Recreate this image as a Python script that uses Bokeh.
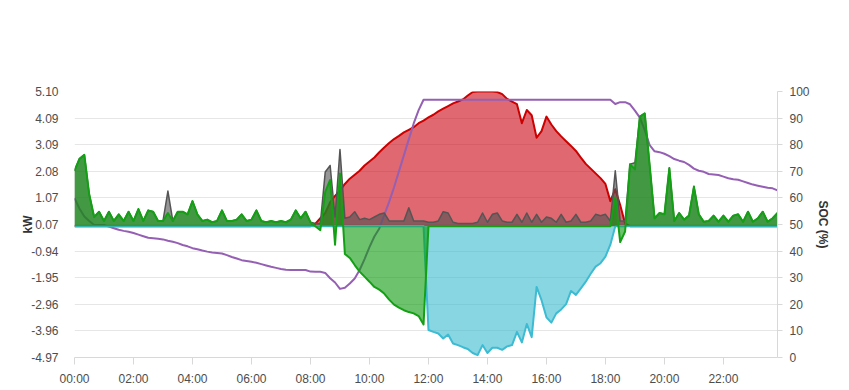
from bokeh.plotting import figure
from bokeh.models import (Range1d, LinearAxis, FixedTicker, PrintfTickFormatter,
                          CustomJSTickFormatter, ColumnDataSource)
from bokeh.embed import file_html
from bokeh.resources import INLINE

STEP_MIN = 10  # one value every 10 minutes, 00:00 .. 23:50

# PV production (kW)
pv = ([0.0] * 48 +
      [0.0, 0.1, 0.3, 0.5, 0.9, 1.15,
       1.35, 1.6, 1.8, 1.95, 2.1, 2.3,
       2.45, 2.6, 2.8, 2.98, 3.15, 3.3,
       3.42, 3.55, 3.65, 3.75, 3.9, 4.0,
       4.12, 4.22, 4.35, 4.45, 4.55, 4.65,
       4.72, 4.8, 4.95, 5.08, 5.1, 5.1,
       5.1, 5.1, 5.08, 5.0, 4.82, 4.72,
       4.62, 3.9, 4.4, 4.2, 3.35, 3.6,
       4.15, 3.85, 3.6, 3.4, 3.22, 3.04,
       2.85, 2.6, 2.36, 2.18, 2.0, 1.82,
       1.6, 0.95, 1.4, 0.8, 0.1, 0.0] +
      [0.0] * 30)

# Battery power (kW, + discharge / - charge)
battery = ([2.1, 2.55, 2.7, 1.2, 0.35, 0.55,
            0.2, 0.55, 0.2, 0.45, 0.2, 0.55,
            0.2, 0.65, 0.2, 0.6, 0.55, 0.2,
            0.2, 0.5, 0.2, 0.55, 0.55, 0.45,
            0.95, 0.45, 0.2, 0.25, 0.15, 0.2,
            0.6, 0.2, 0.2, 0.25, 0.45, 0.2,
            0.25, 0.6, 0.2, 0.15, 0.2, 0.15,
            0.2, 0.15, 0.25, 0.6, 0.3, 0.55,
            0.15, 0.0, -0.15, 1.3, 1.75, -0.7,
            2.0, -1.05, -1.2, -1.47, -1.72, -1.91,
            -2.1, -2.3, -2.4, -2.55, -2.78, -2.97,
            -3.08, -3.18, -3.25, -3.3, -3.4, -3.72] +
           [0.0] * 36 +
           [0.0, 0.0, 1.1, -0.6, -0.2, 2.35,
            2.15, 4.15, 4.27, 2.3, 0.3, 0.5,
            0.45, 2.2, 0.2, 0.5, 0.25, 0.4,
            1.5, 0.45, 0.17, 0.2, 0.4, 0.17,
            0.4, 0.17, 0.4, 0.45, 0.17, 0.55,
            0.17, 0.3, 0.55, 0.17, 0.3, 0.5])

# House load (kW)
load = [2.1, 2.55, 2.7, 1.2, 0.35, 0.55,
        0.2, 0.55, 0.2, 0.45, 0.2, 0.55,
        0.2, 0.65, 0.2, 0.6, 0.55, 0.2,
        0.2, 1.33, 0.2, 0.55, 0.55, 0.45,
        0.95, 0.45, 0.2, 0.25, 0.15, 0.2,
        0.6, 0.2, 0.2, 0.25, 0.45, 0.2,
        0.25, 0.6, 0.2, 0.15, 0.2, 0.15,
        0.2, 0.15, 0.25, 0.6, 0.3, 0.55,
        0.15, 0.1, 0.1, 2.05, 2.3, 0.35,
        2.9, 0.3, 0.35, 0.55, 0.25, 0.3,
        0.25, 0.35, 0.45, 0.5, 0.2, 0.2,
        0.2, 0.2, 0.7, 0.2, 0.2, 0.2,
        0.15, 0.15, 0.2, 0.55, 0.5, 0.15,
        0.1, 0.1, 0.1, 0.1, 0.15, 0.5,
        0.15, 0.45, 0.5, 0.2, 0.15, 0.15,
        0.45, 0.15, 0.5, 0.15, 0.45, 0.15,
        0.35, 0.3, 0.15, 0.45, 0.15, 0.2,
        0.45, 0.15, 0.15, 0.2, 0.45, 0.4,
        0.45, 0.2, 2.1, 0.2, 0.2, 2.35,
        2.4, 4.15, 4.27, 2.3, 0.3, 0.5,
        0.45, 2.2, 0.2, 0.5, 0.25, 0.4,
        1.5, 0.45, 0.17, 0.2, 0.4, 0.17,
        0.4, 0.17, 0.4, 0.45, 0.17, 0.55,
        0.17, 0.3, 0.55, 0.17, 0.3, 0.5]

# Grid power (kW, - export)
grid = ([0.0] * 72 +
        [-3.93, -4.0, -4.06, -4.25, -4.1, -4.44,
         -4.5, -4.58, -4.65, -4.8, -4.88, -4.5,
         -4.8, -4.6, -4.6, -4.68, -4.55, -4.5,
         -4.0, -4.4, -3.7, -4.2, -2.3, -2.8,
         -3.45, -3.65, -3.3, -3.15, -2.95, -2.45,
         -2.6, -2.35, -2.1, -1.8, -1.53, -1.4,
         -1.15, -0.7, 0.0] +
        [0.0] * 33)

# Battery state of charge (%)
soc = ([59.9, 56.0, 53.0, 51.3, 49.8, 49.8,
        49.8, 49.2, 48.6, 48.0, 47.6, 47.3,
        46.8, 46.2, 45.6, 45.0, 44.8, 44.6,
        44.4, 43.9, 43.5, 43.0, 42.3, 41.8,
        41.1, 40.7, 40.2, 39.8, 39.5, 39.3,
        39.1, 38.5, 37.8, 37.2, 36.6, 36.3,
        36.0, 35.6, 35.1, 34.6, 34.1, 33.7,
        33.3, 33.0, 32.9, 32.9, 32.9, 32.9,
        32.3, 32.2, 32.2, 31.8, 29.8, 28.2,
        25.8, 26.2, 27.8, 29.7, 32.9, 37.0,
        41.5, 45.5, 48.5, 53.5, 58.5, 64.0,
        70.0, 76.0, 82.0, 88.0, 93.0, 96.9] +
       [96.9] * 36 +
       [96.9, 96.9, 95.3, 96.0, 96.0, 95.2,
        92.8, 90.2, 85.5, 79.8, 77.5, 77.2,
        76.6, 75.7, 74.6, 74.0, 73.5, 72.4,
        71.0, 70.2, 69.8, 69.0, 68.8, 68.6,
        68.0, 67.4, 67.0, 66.8, 66.2, 65.6,
        65.0, 64.6, 64.2, 63.8, 63.6, 62.8])

kw_ticks = [-4.97, -3.96, -2.96, -1.95, -0.94, 0.07, 1.07, 2.08, 3.09, 4.09, 5.10]
soc_ticks = [0, 10, 20, 30, 40, 50, 60, 70, 80, 90, 100]
hour_ticks = [0, 2, 4, 6, 8, 10, 12, 14, 16, 18, 20, 22]

hours = [i * STEP_MIN / 60.0 for i in range(len(pv))]
src = ColumnDataSource(dict(h=hours, pv=pv, bat=battery, load=load, grid=grid, soc=soc))

FONT = "Liberation Sans"
TICK_COLOR = "#4d4d4d"

p = figure(width=849, height=390, output_backend="svg", toolbar_location=None,
           x_range=Range1d(0, hours[-1]), y_range=Range1d(kw_ticks[0], kw_ticks[-1]),
           min_border_left=74, min_border_right=72, min_border_top=91, min_border_bottom=33)
p.outline_line_color = None
p.background_fill_color = "white"
p.border_fill_color = "white"
p.extra_y_ranges = {"soc": Range1d(0, 100)}

# areas
p.varea(x="h", y1=0, y2="pv", source=src, fill_color="#cc0410", fill_alpha=0.6)
p.line("h", "pv", source=src, line_color="#cc0000", line_width=2, line_join="round")

p.line("h", "soc", source=src, y_range_name="soc", line_color="#955fb4", line_width=2,
       line_join="round")

p.varea(x="h", y1=0, y2="load", source=src, fill_color="#505050", fill_alpha=0.6)
p.line("h", "load", source=src, line_color="#555555", line_width=1.5, line_join="round")

p.varea(x="h", y1=0, y2="grid", source=src, fill_color="#37bbcf", fill_alpha=0.6)
p.line("h", "grid", source=src, line_color="#3cbbd2", line_width=2, line_join="round")

p.varea(x="h", y1=0, y2="bat", source=src, fill_color="#0c990c", fill_alpha=0.6)
p.line("h", "bat", source=src, line_color="#14a014", line_width=2, line_join="round")

# x axis
xa = p.xaxis[0]
xa.ticker = FixedTicker(ticks=hour_ticks)
xa.formatter = CustomJSTickFormatter(code="const h = Math.round(tick); return (h < 10 ? '0' : '') + h + ':00';")
xa.axis_line_color = "#d8d8d8"
xa.major_tick_line_color = "#d8d8d8"
xa.major_tick_in = 0
xa.major_tick_out = 7
xa.minor_tick_line_color = None
xa.major_label_standoff = 7
xa.major_label_text_font = FONT
xa.major_label_text_font_size = "12px"
xa.major_label_text_color = TICK_COLOR

# left axis
ya = p.yaxis[0]
ya.ticker = FixedTicker(ticks=kw_ticks)
ya.formatter = PrintfTickFormatter(format="%.2f")
ya.axis_line_color = None
ya.major_tick_line_color = None
ya.minor_tick_line_color = None
ya.major_label_standoff = 10
ya.major_label_text_font = FONT
ya.major_label_text_font_size = "12px"
ya.major_label_text_color = TICK_COLOR
ya.axis_label = "kW"
ya.axis_label_text_font = FONT
ya.axis_label_text_font_size = "12px"
ya.axis_label_text_font_style = "bold"
ya.axis_label_text_color = "#333333"
ya.axis_label_standoff = -7

# right axis
ra = LinearAxis(y_range_name="soc", ticker=FixedTicker(ticks=soc_ticks))
ra.axis_line_color = "#d8d8d8"
ra.major_tick_line_color = "#d8d8d8"
ra.major_tick_in = 0
ra.major_tick_out = 5
ra.minor_tick_line_color = None
ra.major_label_standoff = 7
ra.major_label_text_font = FONT
ra.major_label_text_font_size = "12px"
ra.major_label_text_color = TICK_COLOR
ra.axis_label = "SOC (%)"
ra.axis_label_text_font = FONT
ra.axis_label_text_font_size = "12px"
ra.axis_label_text_font_style = "bold"
ra.axis_label_text_color = "#333333"
ra.axis_label_standoff = 3
p.add_layout(ra, "right")

p.xgrid.visible = False
p.ygrid.grid_line_color = "#e6e6e6"
p.ygrid.grid_line_width = 1

open("out.html", "w").write(file_html(p, INLINE))
